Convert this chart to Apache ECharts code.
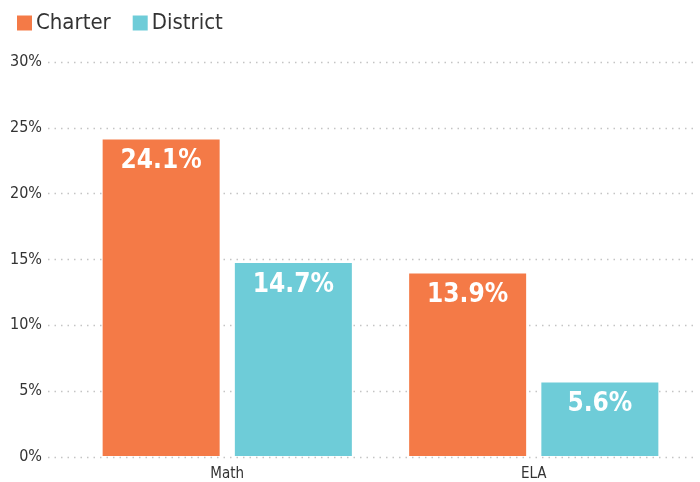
<!DOCTYPE html>
<html>
<head>
<meta charset="UTF-8">
<title>Charter vs District</title>
<script src="https://cdn.jsdelivr.net/npm/echarts@6/dist/echarts.min.js"></script>
<style>
html,body{margin:0;padding:0;background:#fff;}
#main{width:700px;height:482px;}
</style>
</head>
<body>
<div id="main"></div>
<script type="text/javascript">
var categories = ['Math', 'ELA'];
var charter = [24.1, 13.9];
var district = [14.7, 5.6];
var yTicks = [0, 5, 10, 15, 20, 25, 30];

var font = '"DejaVu Sans Condensed", "DejaVu Sans", sans-serif';
var myChart = echarts.init(document.getElementById('main'));

var option = {
    animation: false,
    legend: {
        left: 12,
        top: 7,
        itemWidth: 15,
        itemHeight: 15,
        itemGap: 22,
        icon: 'rect',
        textStyle: { fontFamily: font, fontSize: 22, color: '#333', padding: [0, 0, 0, -1] },
        data: ['Charter', 'District']
    },
    // grid 0 carries the y labels and dotted lines across the full width,
    // grid 1 holds the bars
    grid: [
        { left: 48, right: 3, top: 62, bottom: 25 },
        { left: 74, right: 13, top: 62, bottom: 25 }
    ],
    xAxis: [{
        gridIndex: 0,
        type: 'category',
        data: categories,
        show: false
    }, {
        gridIndex: 1,
        type: 'category',
        data: categories,
        axisLine: { show: false },
        axisTick: { show: false },
        axisLabel: { fontFamily: font, fontSize: 15, color: '#333', margin: 11 }
    }],
    yAxis: [{
        gridIndex: 0,
        type: 'value',
        min: yTicks[0],
        max: yTicks[yTicks.length - 1],
        interval: 5,
        axisLabel: {
            fontFamily: font, fontSize: 16, color: '#333', margin: 6,
            formatter: '{value}%'
        },
        axisLine: { show: false },
        axisTick: { show: false },
        splitLine: { lineStyle: { color: '#c4c4c4', type: [1.5, 5], width: 1.3 } }
    }, {
        gridIndex: 1,
        type: 'value',
        min: yTicks[0],
        max: yTicks[yTicks.length - 1],
        interval: 5,
        show: false,
        splitLine: { show: false }
    }],
    series: [{
        name: 'Charter',
        type: 'bar',
        xAxisIndex: 1,
        yAxisIndex: 1,
        data: charter,
        barWidth: 117,
        barGap: '13%',
        itemStyle: { color: '#F47A47' },
        label: {
            show: true, position: 'insideTop', distance: 9,
            color: '#fff', fontFamily: font, fontWeight: 'bold', fontSize: 26,
            formatter: '{c}%'
        }
    }, {
        name: 'District',
        type: 'bar',
        xAxisIndex: 1,
        yAxisIndex: 1,
        data: district,
        barWidth: 117,
        barGap: '13%',
        itemStyle: { color: '#6ECCD8' },
        label: {
            show: true, position: 'insideTop', distance: 9,
            color: '#fff', fontFamily: font, fontWeight: 'bold', fontSize: 26,
            formatter: '{c}%'
        }
    }]
};
myChart.setOption(option);
</script>
</body>
</html>
